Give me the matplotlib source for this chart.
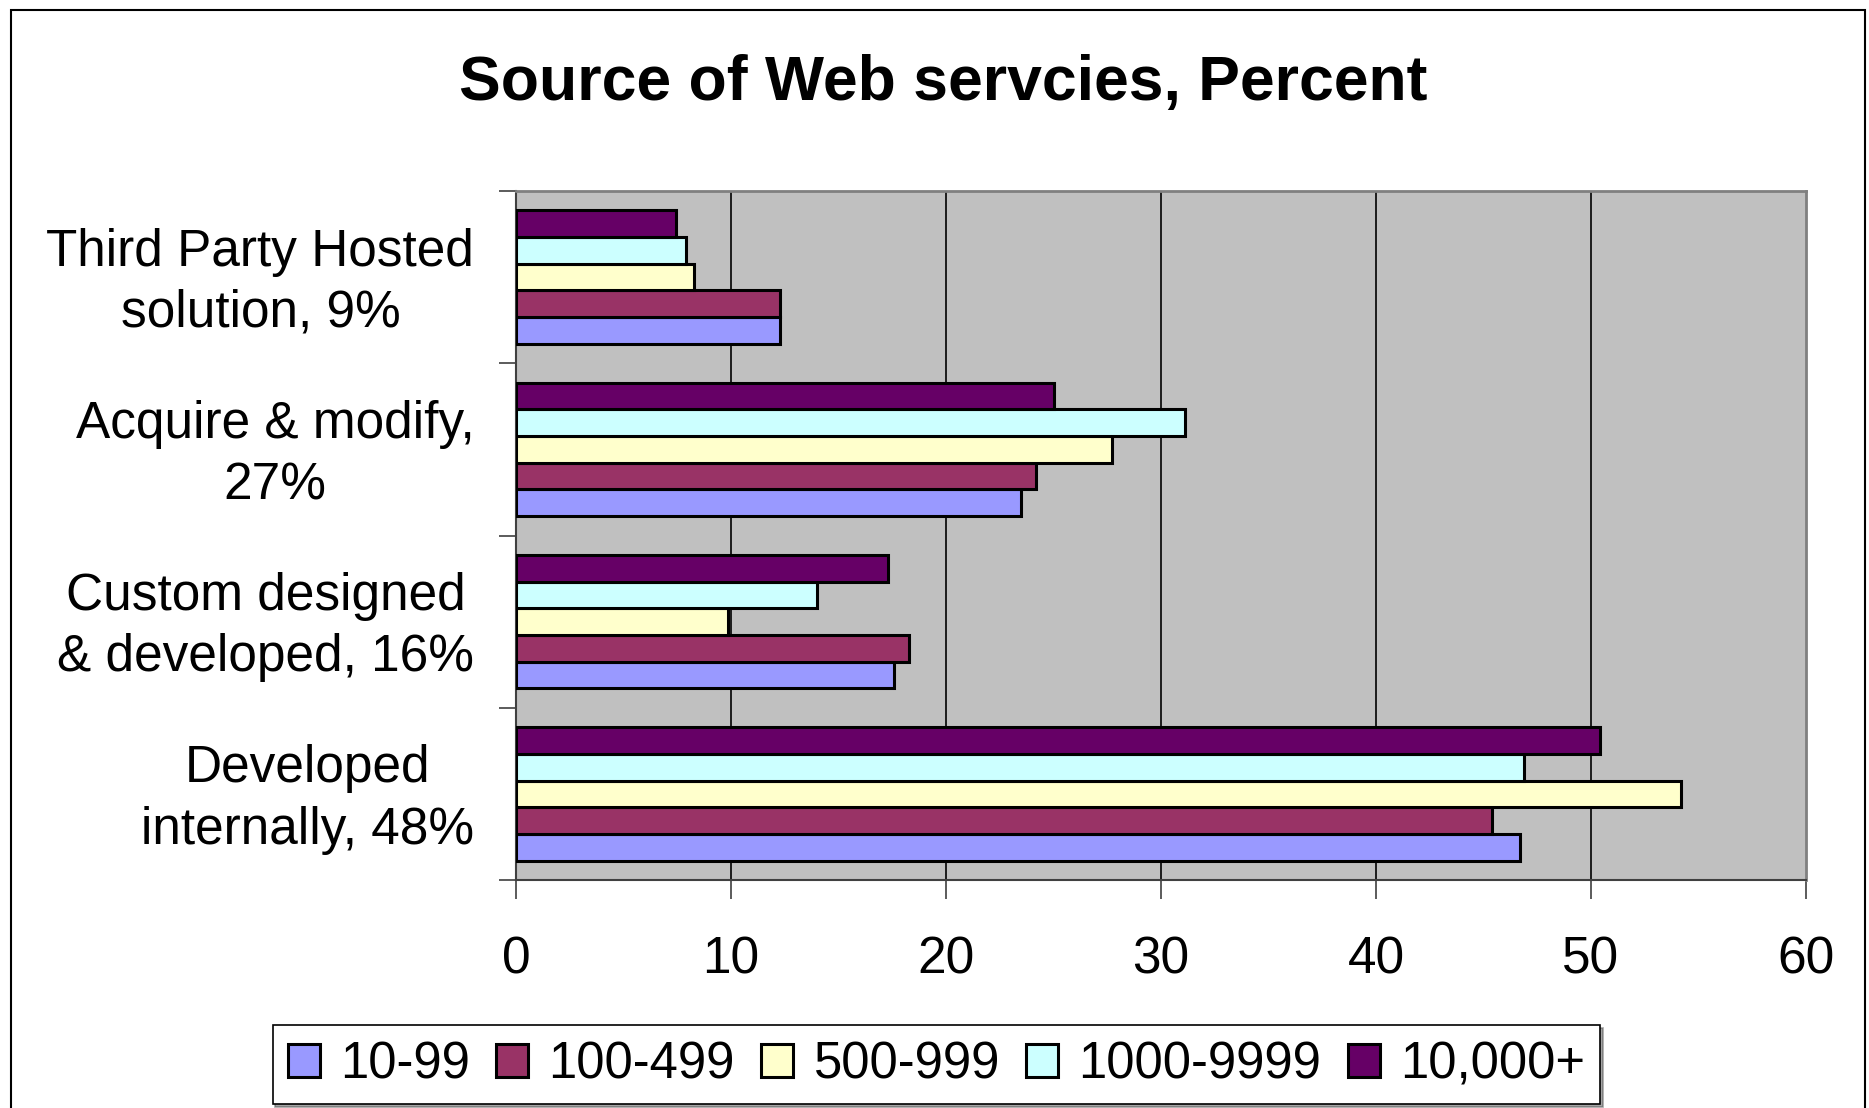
import matplotlib.pyplot as plt
from matplotlib.patches import Rectangle, Patch
import numpy as np

plt.rcParams['font.family'] = ['Liberation Sans', 'DejaVu Sans']

# categories from bottom to top
categories = ["Developed\ninternally, 48%",
              "Custom designed\n& developed, 16%",
              "Acquire & modify,\n27%",
              "Third Party Hosted\nsolution, 9%"]

series_names = ["10-99", "100-499", "500-999", "1000-9999", "10,000+"]
series_colors = ["#9999FF", "#993366", "#FFFFCC", "#CCFFFF", "#660066"]

# values per series, same order as categories
v_10_99 = [46.7, 17.6, 23.5, 12.3]
v_100_499 = [45.4, 18.3, 24.2, 12.3]
v_500_999 = [54.2, 9.85, 27.7, 8.3]
v_1000_9999 = [46.9, 14.0, 31.1, 7.9]
v_10000p = [50.4, 17.3, 25.0, 7.45]
values = [v_10_99, v_100_499, v_500_999, v_1000_9999, v_10000p]

x_ticks = [0, 10, 20, 30, 40, 50, 60]

fig = plt.figure(figsize=(18.69, 11.08), dpi=100)
ax = fig.add_axes([516/1869, 228/1108, 1290/1869, 689/1108])
ax.set_facecolor("#C0C0C0")

h = 0.155
ypos = np.arange(len(categories))
for j, (name, col, vals) in enumerate(zip(series_names, series_colors, values)):
    ax.barh(ypos + (j - 2) * h, vals, height=h, color=col,
            edgecolor="black", linewidth=2.2, label=name, zorder=3)

ax.set_xlim(0, 60)
ax.set_ylim(-0.5, 3.5)
ax.set_xticks(x_ticks)
ax.set_xticklabels([str(t) for t in x_ticks], fontsize=37)
for t in x_ticks[1:-1]:
    ax.axvline(t, color="black", linewidth=1.2, zorder=1)

# category separators as major ticks, labels on (invisible) minor ticks
ax.set_yticks(np.arange(-0.5, 4.0, 1.0))
ax.set_yticklabels([])
ax.set_yticks(ypos + 0.035, minor=True)
ax.set_yticklabels(categories, minor=True, fontsize=37)
for lab in ax.get_yticklabels(minor=True):
    lab.set_multialignment("center")
    lab.set_linespacing(1.32)
ax.tick_params(axis="y", which="minor", length=0, pad=30)
ax.tick_params(axis="y", which="major", length=12, width=1.2, color="#404040")
ax.tick_params(axis="x", length=14, width=1.2, pad=26, color="#404040")

for s in ["left", "bottom"]:
    ax.spines[s].set_color("#404040")
    ax.spines[s].set_linewidth(1.5)
for s in ["top", "right"]:
    ax.spines[s].set_color("#808080")
    ax.spines[s].set_linewidth(2)

fig.text(0.5045, 0.925, "Source of Web servcies, Percent", fontsize=45,
         fontweight="bold", ha="center", va="center")

handles = [Patch(facecolor=c, edgecolor="black", linewidth=2.2) for c in series_colors]
leg = fig.legend(handles, series_names, loc="center", bbox_to_anchor=(0.501, 0.039),
                 ncol=5, fontsize=36.5, frameon=True, fancybox=False, shadow=True,
                 handlelength=0.63, handleheight=0.63, handletextpad=0.4,
                 columnspacing=0.52, borderpad=0.3, borderaxespad=0)
leg.get_frame().set_edgecolor("black")
leg.get_frame().set_linewidth(1.2)

fig.patches.append(Rectangle((11/1869, -0.05), (1865-11)/1869, 1.05 - 10/1108,
                             transform=fig.transFigure, fill=False,
                             edgecolor="black", linewidth=1.5))

fig.savefig("out.png", dpi=100)
